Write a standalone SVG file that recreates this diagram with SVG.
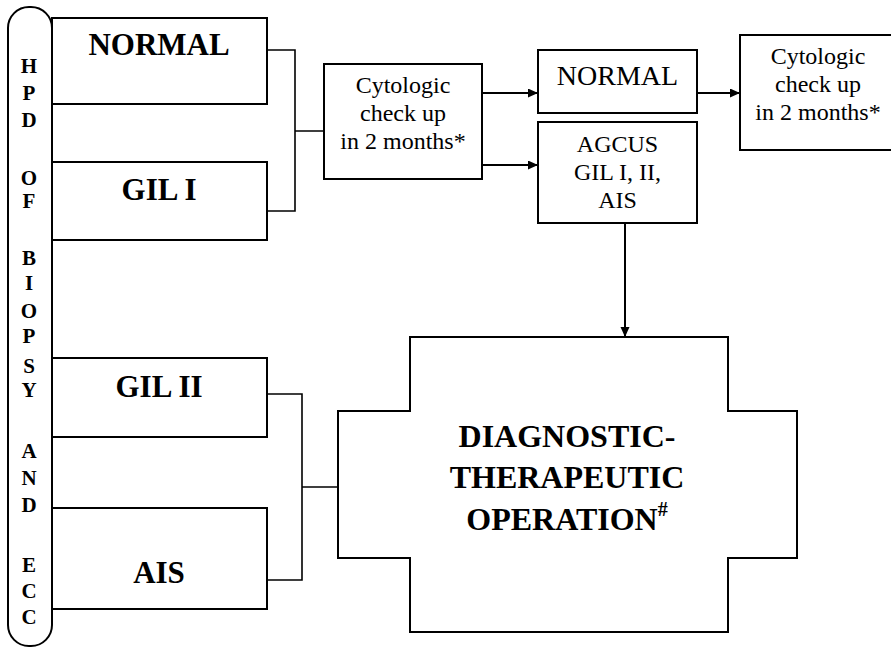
<svg xmlns="http://www.w3.org/2000/svg" width="891" height="650" viewBox="0 0 891 650">
<style>
.box{fill:#fff;stroke:#000;stroke-width:2}
.ln{fill:none;stroke:#000;stroke-width:1.6}
.arr{fill:none;stroke:#000;stroke-width:2}
.b{font-weight:bold;fill:#000;text-anchor:middle}
.r{fill:#000;text-anchor:middle}
.v{font-size:21px}
</style>
<defs>
<marker id="ah" markerUnits="userSpaceOnUse" markerWidth="12" markerHeight="10" refX="10" refY="4.5" orient="auto">
<path d="M0,0 L10,4.5 L0,9 Z" fill="#000"/>
</marker>
</defs>
<rect width="891" height="650" fill="#fff"/>
<g font-family="Liberation Serif, serif">
<g id="hpd-bar">
<rect class="box" x="8" y="7" width="44" height="639" rx="21" ry="21"/>
<g class="b v">
<text x="29" y="73">H</text>
<text x="29" y="100">P</text>
<text x="29" y="127">D</text>
<text x="29" y="185">O</text>
<text x="29" y="208">F</text>
<text x="29" y="265">B</text>
<text x="29" y="290">I</text>
<text x="29" y="318">O</text>
<text x="29" y="343">P</text>
<text x="29" y="373">S</text>
<text x="29" y="397">Y</text>
<text x="29" y="458">A</text>
<text x="29" y="485">N</text>
<text x="29" y="512">D</text>
<text x="29" y="572">E</text>
<text x="29" y="598">C</text>
<text x="29" y="624">C</text>
</g>
</g>
<g id="normal-left">
<rect class="box" x="52" y="18" width="215" height="86"/>
<text class="b" x="159" y="55" font-size="31">NORMAL</text>
</g>
<g id="gil1">
<rect class="box" x="52" y="162" width="215" height="78"/>
<text class="b" x="159" y="200" font-size="31">GIL I</text>
</g>
<g id="gil2">
<rect class="box" x="52" y="358" width="215" height="79"/>
<text class="b" x="159" y="397" font-size="31">GIL II</text>
</g>
<g id="ais">
<rect class="box" x="52" y="508" width="215" height="101"/>
<text class="b" x="159" y="583" font-size="31">AIS</text>
</g>
<g id="cyto1">
<rect class="box" x="324" y="64" width="158" height="115"/>
<text class="r" font-size="24"><tspan x="403" y="93">Cytologic</tspan><tspan x="403" y="121">check up</tspan><tspan x="403" y="149">in 2 months*</tspan></text>
</g>
<g id="normal-mid">
<rect class="box" x="538" y="50" width="159" height="63"/>
<text class="r" x="617.5" y="85" font-size="28">NORMAL</text>
</g>
<g id="agcus">
<rect class="box" x="538" y="122" width="159" height="101"/>
<text class="r" font-size="24"><tspan x="617.5" y="152">AGCUS</tspan><tspan x="617.5" y="180">GIL I, II,</tspan><tspan x="617.5" y="208">AIS</tspan></text>
</g>
<g id="cyto2">
<rect class="box" x="740" y="35" width="156" height="115"/>
<text class="r" font-size="24"><tspan x="818" y="64">Cytologic</tspan><tspan x="818" y="92">check up</tspan><tspan x="818" y="120">in 2 months*</tspan></text>
</g>
<g id="operation">
<path class="box" d="M410,337 H728 V411 H797 V558 H728 V632 H410 V558 H338 V411 H410 Z"/>
<text class="b" font-size="32"><tspan x="567" y="447">DIAGNOSTIC-</tspan><tspan x="567" y="488">THERAPEUTIC</tspan><tspan x="567" y="530">OPERATION<tspan font-size="20" dy="-14">#</tspan></tspan></text>
</g>
</g>
<g id="connectors">
<path class="ln" d="M267,50 H295 V211 H267 M295,131 H324"/>
<path class="ln" d="M267,394 H302 V580 H267 M302,487 H338"/>
<path class="arr" d="M482,93 H538" marker-end="url(#ah)"/>
<path class="arr" d="M482,165 H538" marker-end="url(#ah)"/>
<path class="arr" d="M697,93 H740" marker-end="url(#ah)"/>
<path class="arr" d="M625,223 V337" marker-end="url(#ah)"/>
</g>
</svg>
